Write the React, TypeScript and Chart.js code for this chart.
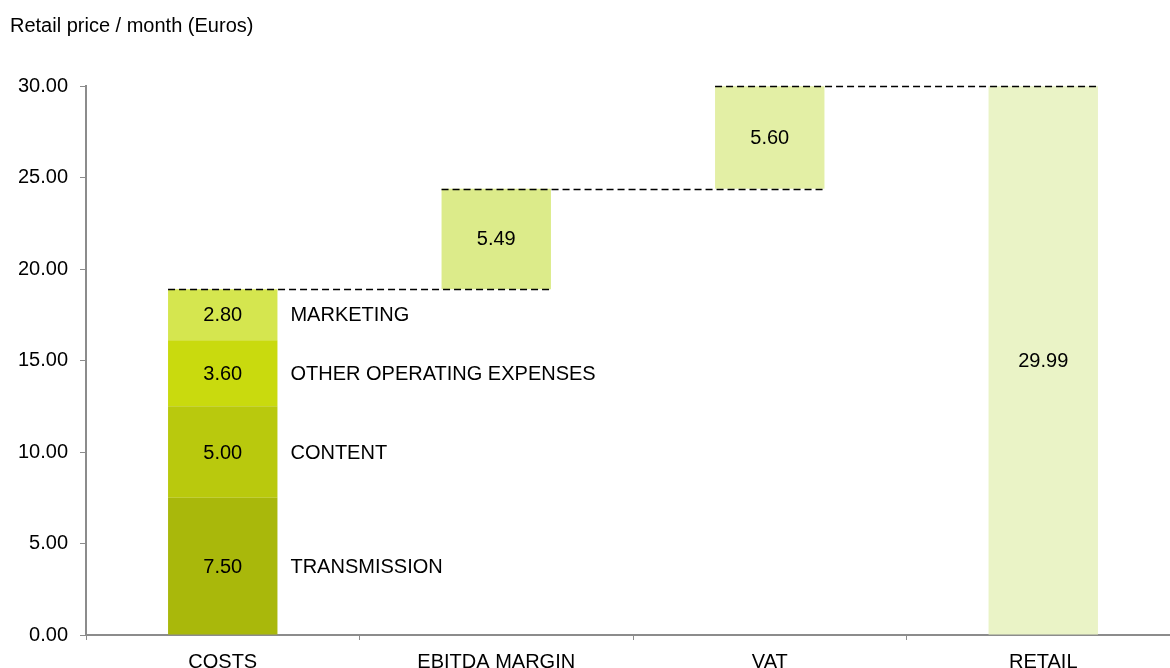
import React, { useEffect, useRef } from "react";
import { Chart, registerables } from "chart.js";

Chart.register(...registerables);

const categories = ["COSTS", "EBITDA MARGIN", "VAT", "RETAIL"];
const costLabels = ["TRANSMISSION", "CONTENT", "OTHER OPERATING EXPENSES", "MARKETING"];
const costValues = [7.5, 5.0, 3.6, 2.8];
const ebitdaMargin = 5.49;
const vat = 5.6;
const retail = 29.99;
const yTicks = [0, 5, 10, 15, 20, 25, 30];
const costColors = ["#a9b80b", "#b9c90d", "#c9da0e", "#d5e64f"];
const ebitdaColor = "#dceb8a";
const vatColor = "#e3efa5";
const retailColor = "#eaf3c6";
const title = "Retail price / month (Euros)";

const FONT = "'Liberation Sans', Arial, sans-serif";
const FS = 20;

export default function App() {
  const ref = useRef<HTMLCanvasElement>(null);
  useEffect(() => {
    const canvas = ref.current;
    if (!canvas) return;

    const datasets: any[] = [];
    let acc = 0;
    costValues.forEach((v, i) => {
      datasets.push({
        label: costLabels[i],
        data: [[acc, acc + v], null, null, null],
        backgroundColor: costColors[i],
        sideLabel: costLabels[i],
      });
      acc += v;
    });
    const costTotal = acc;
    datasets.push({
      label: "EBITDA",
      data: [null, [costTotal, costTotal + ebitdaMargin], null, null],
      backgroundColor: ebitdaColor,
    });
    const preVat = costTotal + ebitdaMargin;
    datasets.push({
      label: "VAT",
      data: [null, null, [preVat, preVat + vat], null],
      backgroundColor: vatColor,
    });
    datasets.push({
      label: "RETAIL",
      data: [null, null, null, [0, retail]],
      backgroundColor: retailColor,
    });

    const nCost = costValues.length;

    const overlay = {
      id: "overlay",
      afterDatasetsDraw(chart: any) {
        const ctx = chart.ctx;
        const y = chart.scales.y;
        ctx.save();
        ctx.font = `${FS}px ${FONT}`;
        ctx.fillStyle = "#000";
        ctx.textBaseline = "middle";
        chart.data.datasets.forEach((ds: any, di: number) => {
          const meta = chart.getDatasetMeta(di);
          ds.data.forEach((d: any, j: number) => {
            if (!d) return;
            const el = meta.data[j];
            const cy = (y.getPixelForValue(d[0]) + y.getPixelForValue(d[1])) / 2;
            ctx.textAlign = "center";
            ctx.fillText((d[1] - d[0]).toFixed(2), el.x, cy + 1);
            if (ds.sideLabel) {
              ctx.textAlign = "left";
              ctx.fillText(ds.sideLabel, el.x + el.width / 2 + 13, cy + 1);
            }
          });
        });
        ctx.strokeStyle = "#000";
        ctx.lineWidth = 1.5;
        ctx.setLineDash([7, 4]);
        const connect = (fromDs: number, fromIdx: number, toDs: number, toIdx: number, value: number) => {
          const a = chart.getDatasetMeta(fromDs).data[fromIdx];
          const b = chart.getDatasetMeta(toDs).data[toIdx];
          const py = Math.round(y.getPixelForValue(value)) + 0.5;
          ctx.beginPath();
          ctx.moveTo(a.x - a.width / 2, py);
          ctx.lineTo(b.x + b.width / 2, py);
          ctx.stroke();
        };
        connect(nCost - 1, 0, nCost, 1, costTotal);
        connect(nCost, 1, nCost + 1, 2, preVat);
        connect(nCost + 1, 2, nCost + 2, 3, preVat + vat);
        ctx.setLineDash([]);
        ctx.font = `${FS}px ${FONT}`;
        ctx.textAlign = "left";
        ctx.textBaseline = "middle";
        ctx.fillText(title, 10, 26);
        ctx.restore();
      },
    };

    const chart = new Chart(canvas, {
      type: "bar",
      data: { labels: categories, datasets },
      options: {
        responsive: false,
        animation: false,
        devicePixelRatio: 1,
        layout: { padding: { top: 86, right: 20, left: 0, bottom: 0 } },
        plugins: {
          legend: { display: false },
          tooltip: { enabled: false },
        },
        datasets: {
          bar: {
            grouped: false,
            barPercentage: 0.4,
            categoryPercentage: 1,
          } as any,
        },
        scales: {
          x: {
            grid: {
              display: true,
              drawOnChartArea: false,
              drawTicks: true,
              tickLength: 5,
              color: "#8c8c8c",
              offset: true,
            },
            border: { color: "#8c8c8c", width: 2 },
            ticks: { color: "#000", font: { size: FS, family: FONT }, padding: 10 },
            afterFit(scale: any) {
              scale.height = 33;
            },
          },
          y: {
            min: 0,
            max: 30,
            afterBuildTicks(scale: any) {
              scale.ticks = yTicks.map((v) => ({ value: v }));
            },
            grid: {
              display: true,
              drawOnChartArea: false,
              drawTicks: true,
              tickLength: 6,
              color: "#8c8c8c",
            },
            border: { color: "#8c8c8c", width: 2 },
            ticks: {
              color: "#000",
              font: { size: FS, family: FONT },
              padding: 12,
              callback: (v: any) => Number(v).toFixed(2),
            },
            afterFit(scale: any) {
              scale.width = 86;
            },
          },
        },
      },
      plugins: [overlay],
    });
    return () => chart.destroy();
  }, []);

  return (
    <div
      style={{
        position: "fixed",
        left: 0,
        top: 0,
        width: 1170,
        height: 668,
        overflow: "hidden",
        background: "#fff",
      }}
    >
      <canvas ref={ref} width={1200} height={668} style={{ display: "block" }} />
    </div>
  );
}
